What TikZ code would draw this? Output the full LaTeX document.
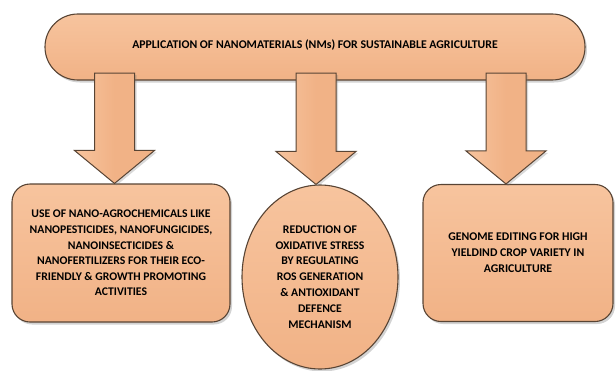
\documentclass[tikz,border=0pt]{standalone}
\usepackage{fontspec}
\setmainfont{Carlito}
\usetikzlibrary{calc,shadows,shapes.geometric}

\definecolor{peach}{RGB}{241,178,134}
\definecolor{peachlight}{RGB}{247,196,158}
\definecolor{rim}{RGB}{88,68,52}
\definecolor{ink}{RGB}{45,30,22}

% fat block arrow from #1 down to #2
\newcommand{\blockarrow}[2]{%
  \draw[blockarrow] let \p1=#1, \p2=#2 in
    (\x1-20pt,\y1) -- (\x1+20pt,\y1) -- (\x1+20pt,\y2+33pt) -- (\x1+40pt,\y2+33pt)
    -- (\x1,\y2) -- (\x1-40pt,\y2+33pt) -- (\x1-20pt,\y2+33pt) -- cycle;}

\begin{document}
\begin{tikzpicture}[x=1pt, y=-1pt, font=\bfseries\color{ink}]
  \tikzset{
    box/.style={draw=rim, line width=1.1pt, top color=peachlight, bottom color=peach,
      drop shadow={opacity=0.35, shadow xshift=2pt, shadow yshift=-2.5pt},
      align=center, inner sep=0pt},
    blockarrow/.style={draw=rim, line width=1pt, left color=peachlight, right color=peach,
      middle color=peach, drop shadow={opacity=0.3, shadow xshift=2pt, shadow yshift=-2pt}}
  }
  \useasboundingbox (0,0) rectangle (616,370);

  % Banner
  \node[box, rounded corners=32.9pt, minimum width=540pt, minimum height=66pt,
        font=\fontsize{11.8}{13}\selectfont\bfseries] (top) at (315,47)
    {\raisebox{-1pt}[0pt][0pt]{APPLICATION OF NANOMATERIALS (NMs) FOR SUSTAINABLE AGRICULTURE}};

  % Arrow start points
  \coordinate (s1) at (114.5,73);
  \coordinate (s2) at (316,73);
  \coordinate (s3) at (506,73);

  % Lower boxes
  \node[box, rounded corners=18pt, minimum width=218pt, minimum height=138pt,
        font=\fontsize{11.7}{15.6}\selectfont\bfseries] (left) at (121,253)
    {USE OF NANO-AGROCHEMICALS LIKE\\NANOPESTICIDES, NANOFUNGICIDES,\\
     NANOINSECTICIDES \&\\NANOFERTILIZERS FOR THEIR ECO-\\FRIENDLY \& GROWTH PROMOTING\\ACTIVITIES};
  \node[box, ellipse, minimum width=156pt, minimum height=184pt,
        font=\fontsize{11.7}{15.9}\selectfont\bfseries] (mid) at (320,277)
    {REDUCTION OF\\OXIDATIVE STRESS\\BY REGULATING\\ROS GENERATION\\\& ANTIOXIDANT\\DEFENCE\\MECHANISM};
  \node[box, rounded corners=18pt, minimum width=190pt, minimum height=137pt,
        font=\fontsize{11.8}{16}\selectfont\bfseries] (right) at (518,253)
    {GENOME EDITING FOR HIGH\\YIELDIND CROP VARIETY IN\\AGRICULTURE};

  % Arrows
  \blockarrow{(s1)}{(s1 |- left.north)}
  \blockarrow{(s2)}{(s2 |- mid.north)}
  \blockarrow{(s3)}{(s3 |- right.north)}
\end{tikzpicture}
\end{document}
